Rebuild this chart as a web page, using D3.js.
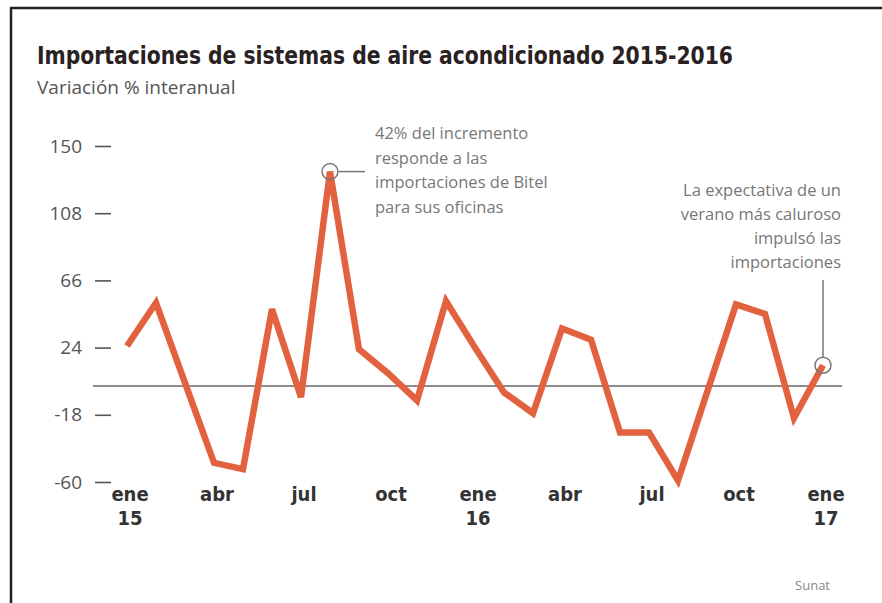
<!DOCTYPE html>
<html>
<head>
<meta charset="utf-8">
<script src="https://cdn.jsdelivr.net/npm/d3@7"></script>
<style>
  body { margin: 0; background: #fff; }
  svg { display: block; }
</style>
</head>
<body>
<div id="chart"></div>
<script>
// --- data ---
const months = ["ene15","feb","mar","abr","may","jun","jul","ago","sep","oct","nov","dic",
                "ene16","feb","mar","abr","may","jun","jul","ago","sep","oct","nov","dic","ene17"];
const variation = [25, 52, 2, -48, -52, 48, -7, 134, 23, 8, -9, 53,
                   24, -4, -17, 36, 29, -29, -29, -59, -4, 51, 45, -20, 13];
const yTicks = [150, 108, 66, 24, -18, -60];
const xTickIndex = [0, 3, 6, 9, 12, 15, 18, 21, 24];
const xTickTop = ["ene", "abr", "jul", "oct", "ene", "abr", "jul", "oct", "ene"];
const xTickBottom = ["15", "", "", "", "16", "", "", "", "17"];
const noteBitel = ["42% del incremento", "responde a las", "importaciones de Bitel", "para sus oficinas"];
const noteVerano = ["La expectativa de un", "verano más caluroso", "impulsó las", "importaciones"];

const width = 882, height = 603;
const narrow = "'Liberation Sans Narrow', 'DejaVu Sans Condensed', sans-serif";

const svg = d3.select("#chart").append("svg")
    .attr("width", width)
    .attr("height", height);

// frame (top + left rule only)
svg.append("line").attr("x1", 10).attr("x2", width).attr("y1", 8).attr("y2", 8)
    .attr("stroke", "#222").attr("stroke-width", 2.5);
svg.append("line").attr("x1", 11).attr("x2", 11).attr("y1", 8).attr("y2", height)
    .attr("stroke", "#222").attr("stroke-width", 2.5);

// title
svg.append("text")
    .attr("x", 37).attr("y", 64)
    .attr("textLength", 696).attr("lengthAdjust", "spacingAndGlyphs")
    .style("font", "bold 24px " + narrow)
    .attr("fill", "#2a2222")
    .text("Importaciones de sistemas de aire acondicionado 2015-2016");

svg.append("text")
    .attr("x", 37).attr("y", 94)
    .style("font", "19px 'Open Sans', sans-serif")
    .attr("fill", "#555")
    .text("Variación % interanual");

// scales
const x = d3.scaleLinear().domain([0, months.length - 1]).range([127, 823]);
const y = d3.scaleLinear().domain([-60, 150]).range([482, 146]);

// y axis: label + short dash
const yAxis = svg.append("g")
    .attr("transform", "translate(111,0)")
    .call(d3.axisLeft(y).tickValues(yTicks).tickSize(16).tickPadding(13)
        .tickFormat(d => d));
yAxis.select(".domain").remove();
yAxis.selectAll(".tick line").attr("stroke", "#555").attr("stroke-width", 1.6);
yAxis.selectAll(".tick text")
    .style("font", "19px 'Open Sans', sans-serif")
    .attr("fill", "#555");

// zero line
svg.append("line")
    .attr("x1", 93).attr("x2", 842)
    .attr("y1", y(0)).attr("y2", y(0))
    .attr("stroke", "#666").attr("stroke-width", 1.6);

// x labels
const xLab = svg.append("g")
    .selectAll("g")
    .data(xTickIndex)
    .join("g")
    .attr("transform", d => `translate(${x(d) + 3},0)`);
xLab.append("text")
    .attr("y", 501).attr("text-anchor", "middle")
    .style("font", "bold 20px " + narrow)
    .attr("fill", "#333")
    .text((d, i) => xTickTop[i]);
xLab.append("text")
    .attr("y", 525).attr("text-anchor", "middle")
    .style("font", "bold 20px " + narrow)
    .attr("fill", "#333")
    .text((d, i) => xTickBottom[i]);

// the line
const line = d3.line()
    .x((d, i) => x(i))
    .y(d => y(d));
svg.append("path")
    .datum(variation)
    .attr("d", line)
    .attr("fill", "none")
    .attr("stroke", "#e2623f")
    .attr("stroke-width", 6.5)
    .attr("stroke-linejoin", "miter");

// annotation 1: peak
const peak = 7;
svg.append("circle")
    .attr("cx", x(peak)).attr("cy", y(variation[peak])).attr("r", 8)
    .attr("fill", "none").attr("stroke", "#777").attr("stroke-width", 1.5);
svg.append("line")
    .attr("x1", x(peak) + 9).attr("x2", 365)
    .attr("y1", y(variation[peak])).attr("y2", y(variation[peak]))
    .attr("stroke", "#777").attr("stroke-width", 1.5);
svg.append("text")
    .style("font", "16.5px 'Open Sans', sans-serif")
    .attr("fill", "#777")
    .selectAll("tspan")
    .data(noteBitel)
    .join("tspan")
    .attr("x", 375)
    .attr("y", (d, i) => 139 + i * 24.5)
    .text(d => d);

// annotation 2: last point
const last = variation.length - 1;
svg.append("circle")
    .attr("cx", x(last)).attr("cy", y(variation[last])).attr("r", 8)
    .attr("fill", "none").attr("stroke", "#777").attr("stroke-width", 1.5);
svg.append("line")
    .attr("x1", x(last)).attr("x2", x(last))
    .attr("y1", 280).attr("y2", y(variation[last]) - 8)
    .attr("stroke", "#777").attr("stroke-width", 1.5);
svg.append("text")
    .style("font", "16.5px 'Open Sans', sans-serif")
    .attr("fill", "#777")
    .attr("text-anchor", "end")
    .selectAll("tspan")
    .data(noteVerano)
    .join("tspan")
    .attr("x", 841)
    .attr("y", (d, i) => 196 + i * 24)
    .text(d => d);

// source
svg.append("text")
    .attr("x", 830).attr("y", 590).attr("text-anchor", "end")
    .style("font", "13px 'Open Sans', sans-serif")
    .attr("fill", "#888")
    .text("Sunat");
</script>
</body>
</html>
